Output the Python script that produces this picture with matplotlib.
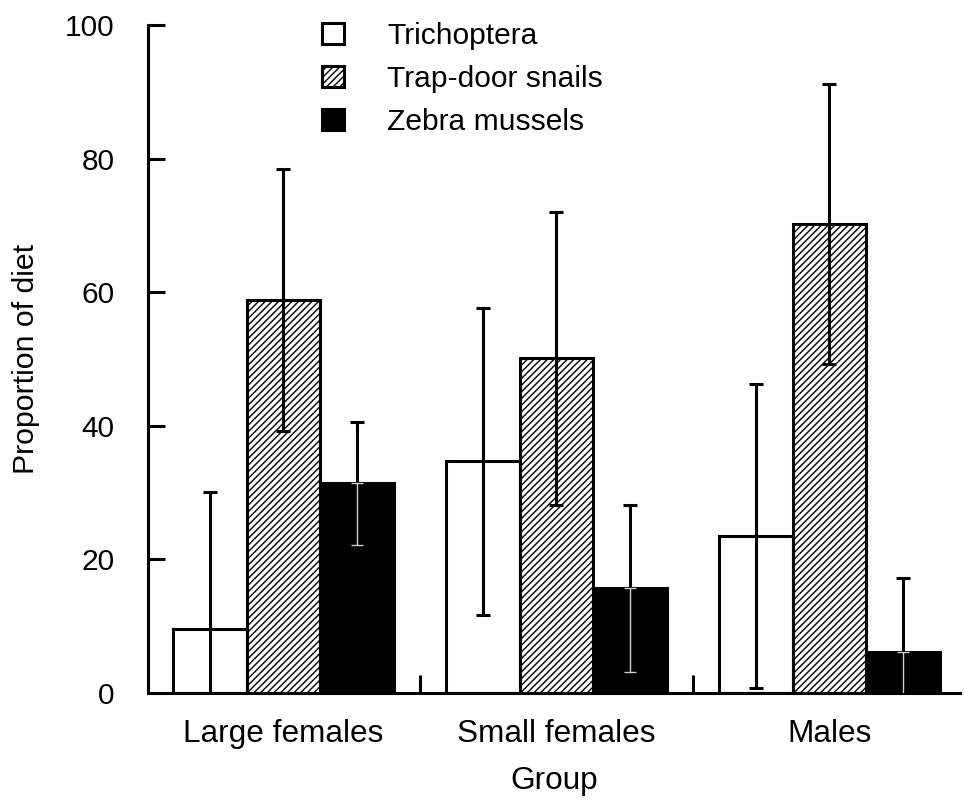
import numpy as np
import matplotlib
matplotlib.use("Agg")
import matplotlib.pyplot as plt
from matplotlib.ticker import FixedLocator

# Dados
grupos = ["Large females", "Small females", "Males"]
series = ["Trichoptera", "Trap-door snails", "Zebra mussels"]
trichoptera = [9.6, 34.7, 23.5]
trichoptera_err = [20.5, 23.0, 22.7]
caramujos = [58.8, 50.1, 70.2]
caramujos_err = [19.6, 21.9, 21.0]
mexilhoes = [31.4, 15.7, 6.1]
mexilhoes_err = [9.2, 12.5, 11.1]
yticks = [0, 20, 40, 60, 80, 100]

plt.rcParams['font.family'] = ['Liberation Sans', 'DejaVu Sans']
plt.rcParams['hatch.linewidth'] = 1.0

fig = plt.figure(figsize=(9.64, 8.01), dpi=100)
ax = fig.add_axes([148 / 964, 108 / 801, 812 / 964, 668 / 801])

x = np.arange(len(grupos))
w = 0.27
lw = 2.2

b1 = ax.bar(x - w, trichoptera, w, color="white", edgecolor="black", linewidth=lw, zorder=2)
b2 = ax.bar(x, caramujos, w, color="white", edgecolor="black", linewidth=lw, hatch="/////", zorder=2)
b3 = ax.bar(x + w, mexilhoes, w, color="black", edgecolor="black", linewidth=lw, zorder=2)

kw = dict(fmt="none", ecolor="black", elinewidth=lw, capsize=5, capthick=lw, zorder=3)
ax.errorbar(x - w, trichoptera, yerr=trichoptera_err, **kw)
ax.errorbar(x, caramujos, yerr=caramujos_err, **kw)
# parte de cima em preto, parte dentro da barra preta em branco
zeros = np.zeros(len(mexilhoes_err))
ax.errorbar(x + w, mexilhoes, yerr=[zeros, mexilhoes_err], **kw)
ax.errorbar(x + w, mexilhoes, yerr=[mexilhoes_err, zeros], fmt="none", ecolor="#d0d0d0",
            elinewidth=1.0, capsize=4, capthick=1.0, zorder=3)

ax.set_xlim(-0.496, 2.478)
ax.set_ylim(0, 100)
ax.set_yticks(yticks)
ax.set_xticks(x)
ax.set_xticklabels(grupos, fontsize=22.7)
ax.xaxis.set_minor_locator(FixedLocator([0.5, 1.5]))

ax.spines['top'].set_visible(False)
ax.spines['right'].set_visible(False)
ax.spines['left'].set_linewidth(lw)
ax.spines['bottom'].set_linewidth(lw)

ax.tick_params(axis='y', direction='in', length=12, width=lw, labelsize=21.5, pad=24)
ax.tick_params(axis='x', which='major', length=0, pad=19)
ax.tick_params(axis='x', which='minor', direction='in', length=13, width=lw)

ax.set_xlabel("Group", fontsize=22.7, labelpad=12)
ax.set_ylabel("Proportion of diet", fontsize=21.8, labelpad=18)

ax.legend([b1, b2, b3], series, loc='upper left', bbox_to_anchor=(307 / 964, 1 - 7 / 801),
          bbox_transform=fig.transFigure, frameon=False, fontsize=21.6, borderpad=0,
          handlelength=0.73, handleheight=0.73, handletextpad=1.45, labelspacing=0.5)

fig.savefig("out.png", dpi=100)
